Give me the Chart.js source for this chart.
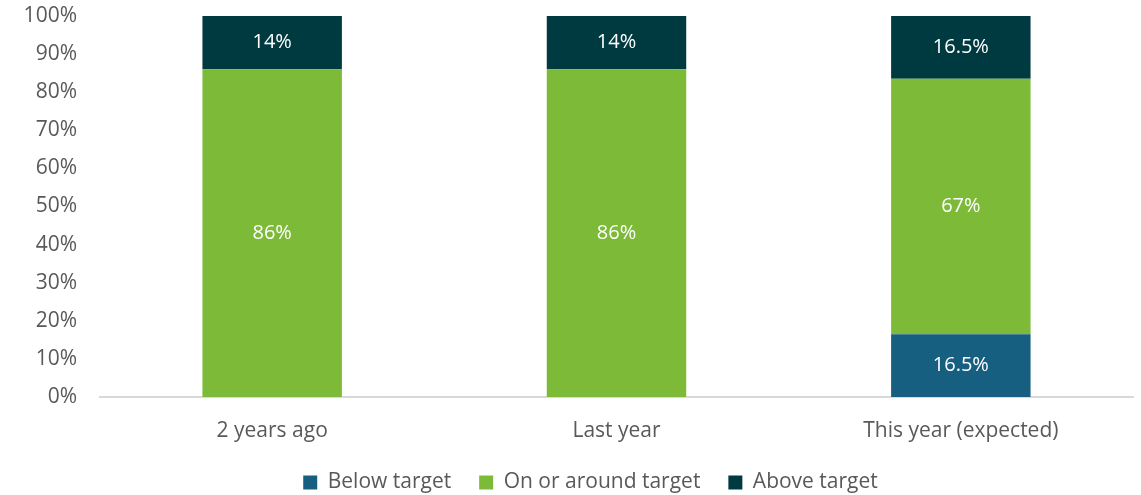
<!DOCTYPE html>
<html>
<head>
<meta charset="utf-8">
<script src="https://cdn.jsdelivr.net/npm/chart.js@4"></script>
<style>
    html, body { margin: 0; padding: 0; background: #fff; }
    #wrap { width: 1141px; height: 495px; }
</style>
</head>
<body>
<div id="wrap"><canvas id="targetChart"></canvas></div>
<script>
const categories = ["2 years ago", "Last year", "This year (expected)"];
const belowTarget = [0, 0, 16.5];
const onTarget = [86, 86, 67];
const aboveTarget = [14, 14, 16.5];
const yTicks = [0, 10, 20, 30, 40, 50, 60, 70, 80, 90, 100];

const FONT = "'Open Sans', 'Liberation Sans', sans-serif";
const TEXT = "#595959";

// draws the value labels in the middle of each segment
const segmentLabels = {
    id: "segmentLabels",
    afterDatasetsDraw(chart) {
        const ctx = chart.ctx;
        ctx.save();
        ctx.font = `20px ${FONT}`;
        ctx.fillStyle = "#ffffff";
        ctx.textAlign = "center";
        ctx.textBaseline = "middle";
        chart.data.datasets.forEach((ds, i) => {
            const meta = chart.getDatasetMeta(i);
            meta.data.forEach((bar, j) => {
                const v = ds.data[j];
                if (!v) return;
                const mid = (bar.y + bar.base) / 2;
                ctx.fillText(`${v}%`, bar.x, mid);
            });
        });
        ctx.restore();
    },
};

// the legend in the original sits a bit right of the canvas centre
const legendShift = {
    id: "legendShift",
    afterLayout(chart) {
        if (!chart.legend) return;
        chart.legend.left += 24;
        chart.legend.right += 24;
    },
};

new Chart(document.getElementById("targetChart").getContext("2d"), {
    type: "bar",
    data: {
        labels: categories,
        datasets: [
            { label: "Below target", data: belowTarget, backgroundColor: "#175f80" },
            { label: "On or around target", data: onTarget, backgroundColor: "#7cba38" },
            { label: "Above target", data: aboveTarget, backgroundColor: "#003a41" },
        ],
    },
    options: {
        responsive: true,
        maintainAspectRatio: false,
        animation: false,
        layout: { padding: { top: 16, right: 8, left: 0, bottom: -8 } },
        datasets: { bar: { categoryPercentage: 1, barPercentage: 0.405 } },
        plugins: {
            tooltip: { enabled: false },
            legend: {
                position: "bottom",
                labels: {
                    color: TEXT,
                    font: { family: FONT, size: 21 },
                    boxWidth: 14,
                    boxHeight: 14,
                    padding: 28,
                },
            },
        },
        scales: {
            x: {
                stacked: true,
                grid: { display: false },
                border: { color: "#d9d9d9", width: 2 },
                afterFit(scale) { scale.height = 47; },
                ticks: { color: TEXT, font: { family: FONT, size: 21 }, padding: 13 },
            },
            y: {
                stacked: true,
                min: 0,
                max: 100,
                grid: { display: false, drawTicks: false },
                border: { display: false },
                afterFit(scale) {
                    scale.width = 100;
                    scale.paddingTop = 0;
                    scale.paddingBottom = 0;
                },
                afterBuildTicks(scale) { scale.ticks = yTicks.map(v => ({ value: v })); },
                ticks: {
                    color: TEXT,
                    font: { family: FONT, size: 21 },
                    padding: 23,
                    callback: v => `${v}%`,
                },
            },
        },
    },
    plugins: [segmentLabels, legendShift],
});
</script>
</body>
</html>
